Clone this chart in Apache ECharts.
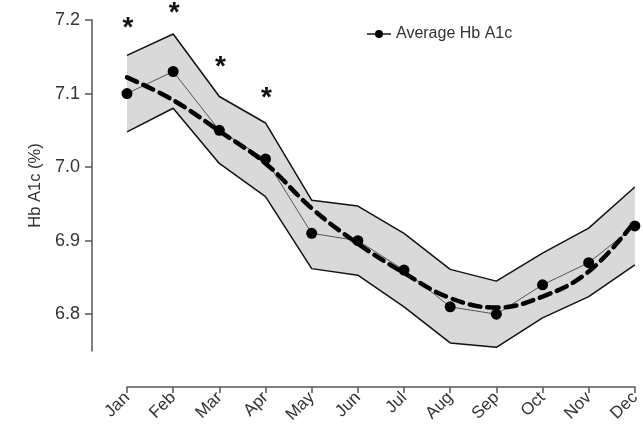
<!DOCTYPE html>
<html>
<head>
<meta charset="utf-8">
<script src="https://cdn.jsdelivr.net/npm/echarts@6/dist/echarts.min.js"></script>
<style>html,body{margin:0;padding:0;background:#fff}#c{width:643px;height:429px}</style>
</head>
<body>
<div id="c"></div>
<script>
var months = ['Jan','Feb','Mar','Apr','May','Jun','Jul','Aug','Sep','Oct','Nov','Dec'];
var avgHbA1c = [7.100, 7.130, 7.050, 7.011, 6.910, 6.900, 6.860, 6.810, 6.800, 6.840, 6.870, 6.920];
var fitted   = [7.122, 7.091, 7.049, 7.005, 6.944, 6.896, 6.856, 6.822, 6.809, 6.824, 6.858, 6.926];
var bandUpper = [7.152, 7.181, 7.096, 7.060, 6.955, 6.947, 6.910, 6.861, 6.845, 6.883, 6.917, 6.973];
var bandLower = [7.048, 7.080, 7.005, 6.960, 6.862, 6.853, 6.810, 6.761, 6.755, 6.795, 6.824, 6.867];
var asteriskY = [7.196, 7.216, 7.143, 7.101, null, null, null, null, null, null, null, null];
var yTicks = [6.8, 6.9, 7.0, 7.1, 7.2];

var bandWidth = bandUpper.map(function (u, i) { return +(u - bandLower[i]).toFixed(3); });
var FONT = "'Liberation Sans',Arial,sans-serif";
var chart = echarts.init(document.getElementById('c'), null, {renderer: 'canvas'});
chart.setOption({
  animation: false,
  grid: {left: 127, right: 1, top: 20, bottom: 78},
  legend: {
    data: [{name: 'Average Hb A1c'}],
    left: 361, top: 21,
    itemWidth: 24, itemHeight: 10, itemGap: 8,
    textStyle: {fontFamily: FONT, fontSize: 16, color: '#333'}
  },
  xAxis: {
    type: 'category', data: months, boundaryGap: false,
    offset: 36,
    axisLine: {lineStyle: {color: '#555', width: 1.5}},
    axisTick: {alignWithLabel: true, length: 6, lineStyle: {color: '#555', width: 1.5}},
    axisLabel: {rotate: 45, fontFamily: FONT, fontSize: 17, color: '#333', margin: 8, interval: 0}
  },
  yAxis: {
    type: 'value', min: 6.75, max: 7.2,
    offset: 35,
    name: 'Hb A1c (%)', nameLocation: 'middle', nameRotate: 90, nameGap: 48,
    nameTextStyle: {fontFamily: FONT, fontSize: 16.5, color: '#333'},
    splitLine: {show: false},
    axisLine: {show: true, lineStyle: {color: '#555', width: 1.5}},
    axisTick: {show: true, length: 7, customValues: yTicks, lineStyle: {color: '#555', width: 1.5}},
    axisLabel: {customValues: yTicks, fontFamily: FONT, fontSize: 18, color: '#333', margin: 12,
      formatter: function (v) { return (+v).toFixed(1); }}
  },
  series: [
    {
      name: 'lower', type: 'line', stack: 'band', data: bandLower,
      symbol: 'none', lineStyle: {color: '#111', width: 1.5}, z: 1, silent: true
    },
    {
      name: 'band', type: 'line', stack: 'band', data: bandWidth,
      symbol: 'none', lineStyle: {color: '#111', width: 1.5},
      areaStyle: {color: '#d9d9d9', opacity: 1}, z: 1, silent: true
    },
    {
      name: 'Average Hb A1c', type: 'line', data: avgHbA1c,
      symbol: 'circle', symbolSize: 11,
      itemStyle: {color: '#000'}, lineStyle: {color: '#555', width: 1}, z: 3
    },
    {
      name: 'fit', type: 'line', data: fitted, smooth: 0.4,
      symbol: 'none', lineStyle: {color: '#000', width: 4.5, type: [11, 7], cap: 'round'}, z: 4
    },
    {
      name: 'sig', type: 'scatter', data: asteriskY, clip: false,
      symbol: 'circle', symbolSize: 2, itemStyle: {color: 'rgba(0,0,0,0)'},
      label: {show: true, formatter: '*', position: 'inside', offset: [1, 5],
        fontFamily: FONT, fontSize: 28, fontWeight: 'bold', color: '#111', opacity: 1},
      z: 5
    }
  ]
});
</script>
</body>
</html>
